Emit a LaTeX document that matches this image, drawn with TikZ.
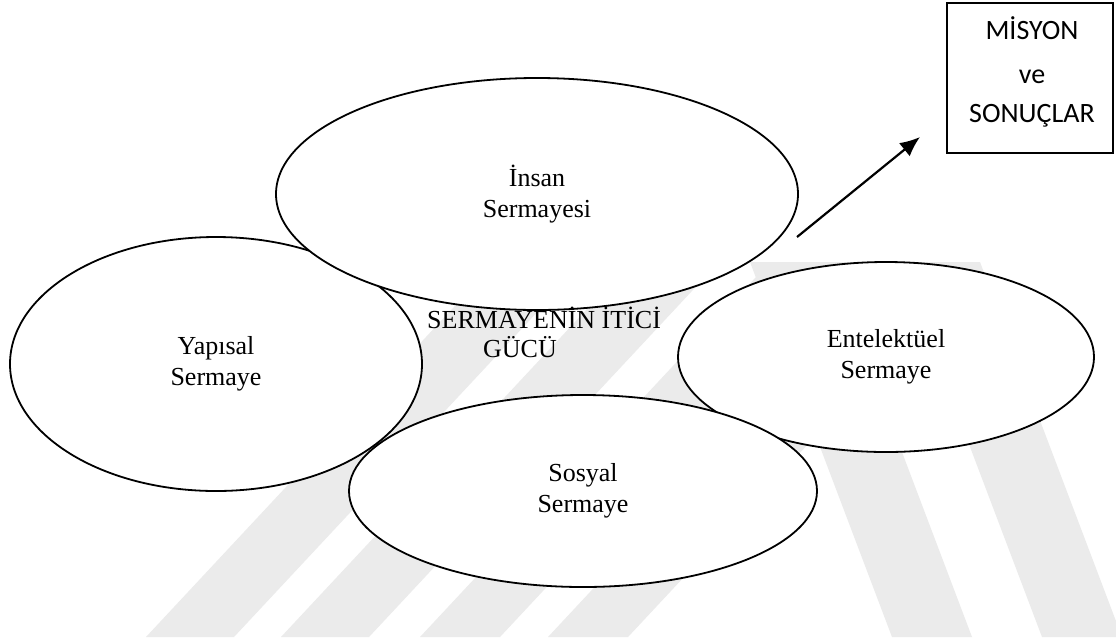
\documentclass[tikz,border=0pt]{standalone}
\usepackage{fontspec}
\setmainfont{Liberation Serif}
\newfontfamily\boxfont{Carlito}
\usetikzlibrary{shapes.geometric,arrows.meta}
\definecolor{markgray}{RGB}{235,235,235}
\begin{document}
\begin{tikzpicture}[x=1pt,y=-1pt,
  capital/.style={ellipse,draw=black,line width=1.8pt,fill=white,inner sep=0pt,
    align=center,font=\fontsize{26}{31}\selectfont},
  resultbox/.style={draw=black,line width=1.8pt,fill=white,inner sep=0pt},
  boxtext/.style={font=\boxfont\fontsize{28}{34}\selectfont,anchor=base,inner sep=0pt},
  flow/.style={-{Latex[length=20pt,width=17pt]},line width=2.2pt},
  band/.style={fill=markgray,draw=none}]
\useasboundingbox (0,0) rectangle (1116,641);
\fill[white] (0,0) rectangle (1116,641);

% background mark: slanted bands
\foreach \xb/\w in {146/88,281/88,420/80,548/80}
  \fill[band] (\xb,637) -- ++(\w,0) -- ++(350,-375) -- ++(-\w,0) -- cycle;
\foreach \xt in {750,900}
  \fill[band] (\xt,262) -- ++(80,0) -- ++(142,375) -- ++(-80,0) -- cycle;

% the four kinds of capital
\node[capital,minimum width=412pt,minimum height=254pt] (yapisal) at (216,364) {Yapısal\\Sermaye};
\node[capital,minimum width=416pt,minimum height=190pt] (entel) at (886,357) {Entelektüel\\Sermaye};
\node[capital,minimum width=522pt,minimum height=232pt] (insan) at (537,194) {İnsan\\Sermayesi};
\node[capital,minimum width=468pt,minimum height=192pt] (sosyal) at (583,491) {Sosyal\\Sermaye};

% driving force in the middle
\node[anchor=base west,inner sep=0pt,align=left,font=\fontsize{26}{29}\selectfont]
  (itici) at (427,357) {SERMAYENİN İTİCİ\\\hspace*{56pt}GÜCÜ};

% outcome box
\node[resultbox,minimum width=166pt,minimum height=150pt] (sonuc) at (1030,78) {};
\node[boxtext] (misyon) at (1032,39) {MİSYON};
\node[boxtext] (ve) at (1032,83) {ve};
\node[boxtext] (sonuclar) at (1032,122) {SONUÇLAR};

\coordinate (a0) at (797,237);
\coordinate (a1) at (920,137);
\draw[flow] (a0) -- (a1);
\end{tikzpicture}
\end{document}
